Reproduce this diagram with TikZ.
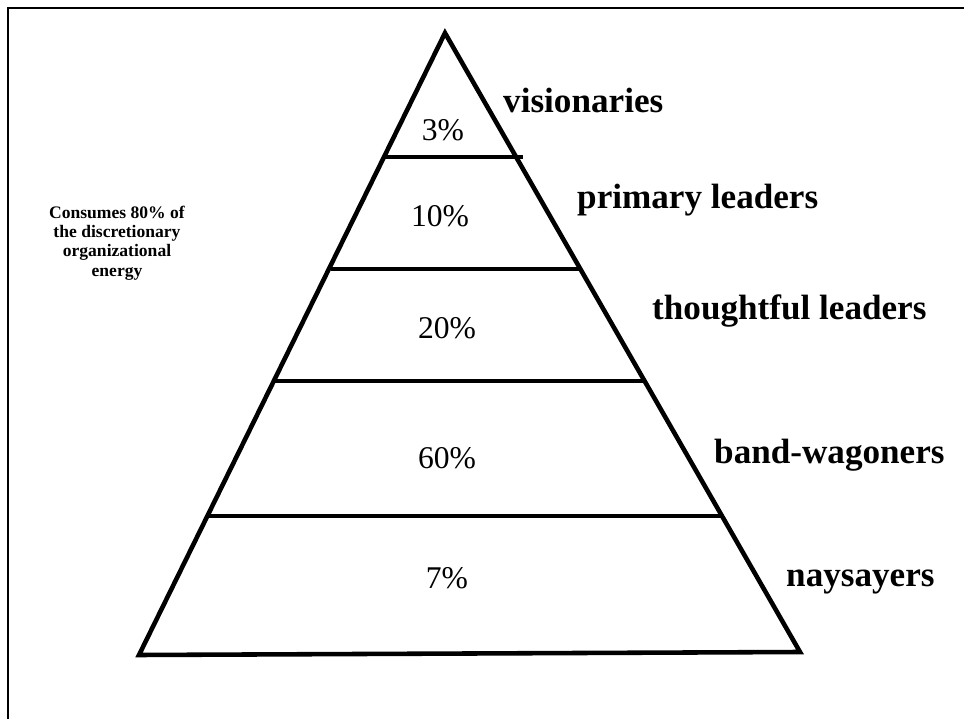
\documentclass[tikz,border=0pt]{standalone}
\usepackage{fontspec}
\setmainfont{Liberation Serif}
\usepackage{tikz}
\usetikzlibrary{positioning}

\begin{document}
\begin{tikzpicture}[x=0.02cm, y=-0.02cm,
						layerline/.style={line width=2.6pt, line join=miter},
						pctlabel/.style={font=\fontsize{18}{20}\selectfont},
						grouplabel/.style={font=\bfseries\fontsize{20}{22}\selectfont, anchor=west},
						]
						\useasboundingbox (0,0) rectangle (964,719);
						%Frame
						\draw[line width=1.6pt] (8,719) -- (8,8) -- (964,8);
						%Corners
						\coordinate (apex) 	at	(445,33);
						\coordinate (bl) 	at	(139,655);
						\coordinate (br) 	at	(800,652);
						\coordinate (l1) 	at	(385,157);
						\coordinate (r1) 	at	(523,157);
						\coordinate (l2) 	at	(331,269);
						\coordinate (r2) 	at	(581,269);
						\coordinate (l3) 	at	(275,381);
						\coordinate (r3) 	at	(646,381);
						\coordinate (l4) 	at	(206,516);
						\coordinate (r4) 	at	(722,516);
						%Nodes
						\node[pctlabel]      (p1) 	at 	(443,130)           {3\%};
						\node[pctlabel]      (p2) 	at 	(440,216)           {10\%};
						\node[pctlabel]      (p3) 	at 	(447,328)           {20\%};
						\node[pctlabel]      (p4) 	at 	(447,458)           {60\%};
						\node[pctlabel]      (p5) 	at 	(447,578)           {7\%};
						\node[grouplabel]    (g1) 	at 	(497,100)           {visionaries};
						\node[grouplabel]    (g2) 	at 	(571,200)           {primary leaders};
						\node[grouplabel]    (g3) 	at 	(646,311)           {thoughtful leaders};
						\node[grouplabel]    (g4) 	at 	(708,455)           {band-wagoners};
						\node[grouplabel]    (g5) 	at 	(780,582)           {naysayers};
						\node[font=\bfseries\fontsize{10}{11}\selectfont, align=center] (energy) at (117,243)
							{Consumes 80\% of\\the discretionary\\organizational\\energy};
						
						\draw[layerline] (bl) -- (apex) -- (br) -- cycle;
						\draw[layerline] (l1) --  (r1);
						\draw[layerline] (l2) --  (r2);
						\draw[layerline] (l3) --  (r3);
						\draw[layerline] (l4) --  (r4);
					\end{tikzpicture}
\end{document}
